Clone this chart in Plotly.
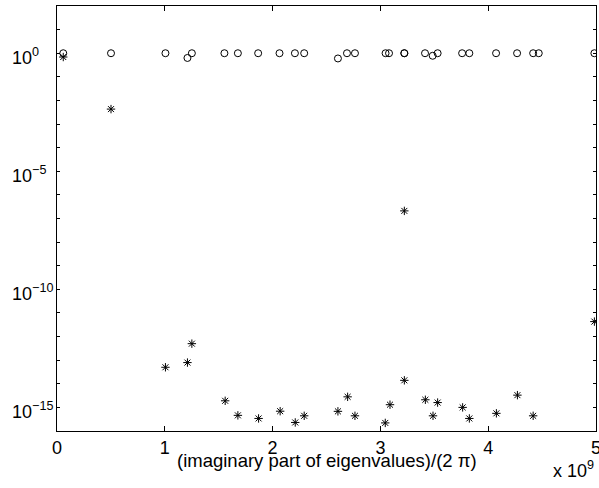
import math
import plotly.graph_objects as go

# Frequencies (imaginary part / 2pi) in units of 1e9
freq_circ = [0.058, 0.501, 1.006, 1.210, 1.251, 1.553, 1.678, 1.866, 2.064, 2.207,
             2.293, 2.606, 2.690, 2.764, 3.048, 3.080, 3.222, 3.222, 3.414, 3.485,
             3.531, 3.758, 3.825, 4.073, 4.268, 4.417, 4.469, 4.985]
mag_circ = [1.0, 1.0, 1.0, 0.63, 1.0, 1.0, 1.0, 1.0, 1.0, 1.0,
            1.0, 0.60, 1.0, 1.0, 1.0, 1.0, 1.0, 1.0, 1.0, 0.78,
            1.0, 1.0, 1.0, 1.0, 1.0, 1.0, 1.0, 1.0]

freq_star = [0.058, 0.501, 1.006, 1.210, 1.251, 1.560, 1.678, 1.870, 2.070, 2.210,
             2.293, 2.606, 2.696, 2.764, 3.045, 3.089, 3.222, 3.222, 3.417, 3.488,
             3.531, 3.763, 3.825, 4.076, 4.271, 4.417, 4.985]
val_star = [6.9e-1, 4.3e-3, 5.0e-14, 7.9e-14, 5.0e-13, 1.9e-15, 4.6e-16, 3.4e-16, 6.9e-16, 2.3e-16,
            4.4e-16, 6.8e-16, 2.8e-15, 4.4e-16, 2.2e-16, 1.3e-15, 2.1e-7, 1.4e-14, 2.1e-15, 4.4e-16,
            1.6e-15, 1.0e-15, 3.4e-16, 5.6e-16, 3.3e-15, 4.4e-16, 4.3e-12]

x_ticks = [0, 1, 2, 3, 4, 5]
x_ticklabels = ["0", "1", "2", "3", "4", "5"]
y_ticks = [1e-15, 1e-10, 1e-5, 1e0]
y_ticklabels = ["10<sup>−15</sup>", "10<sup>−10</sup>", "10<sup>−5</sup>", "10<sup>0</sup>"]
y_minor = [10.0 ** k for k in range(-16, 3)]

SCALE = 1e9
FONT = "Liberation Sans, Arial, Helvetica, sans-serif"

fig = go.Figure()
fig.add_trace(go.Scatter(
    x=[f * SCALE for f in freq_circ], y=mag_circ, mode="markers",
    marker=dict(symbol="circle-open", size=7, color="black", line=dict(width=1, color="black")),
    showlegend=False))
fig.add_trace(go.Scatter(
    x=[f * SCALE for f in freq_star], y=val_star, mode="markers",
    marker=dict(symbol="asterisk-open", size=7, color="black", line=dict(width=1, color="black")),
    showlegend=False))

fig.update_layout(
    width=599, height=488,
    margin=dict(l=57, r=3, t=6, b=57, autoexpand=False),
    paper_bgcolor="white", plot_bgcolor="white",
    font=dict(family=FONT, size=18, color="black"),
)
fig.update_xaxes(
    range=[0, 5 * SCALE], tickmode="array",
    tickvals=[t * SCALE for t in x_ticks], ticktext=x_ticklabels,
    ticks="inside", ticklen=5, tickwidth=1, tickcolor="black",
    showline=True, linecolor="black", linewidth=1, mirror="ticks",
    showgrid=False, zeroline=False, tickfont=dict(size=18),
    ticklabeloverflow="allow", automargin=False,
)
fig.update_yaxes(
    type="log", range=[-16, 2], tickmode="array",
    tickvals=y_ticks, ticktext=[""] * len(y_ticks), showticklabels=False,
    ticks="inside", ticklen=5, tickwidth=1, tickcolor="black",
    minor=dict(tickmode="array", tickvals=y_minor, ticks="inside", ticklen=3, tickcolor="black"),
    showline=True, linecolor="black", linewidth=1, mirror="ticks",
    showgrid=False, zeroline=False,
)

annotations = []
for v, lab in zip(y_ticks, y_ticklabels):
    annotations.append(dict(
        x=(10 - 57) / 539, xref="paper", xanchor="left",
        y=math.log10(v), yref="y", yanchor="middle", yshift=-3,
        text=lab, showarrow=False, font=dict(size=18)))
annotations.append(dict(
    x=0.5, xref="paper", xanchor="center", y=0, yref="paper", yanchor="top", yshift=-17,
    text="(imaginary part of eigenvalues)/(2 π)", showarrow=False, font=dict(size=18.5)))
annotations.append(dict(
    x=1, xref="paper", xanchor="right", y=0, yref="paper", yanchor="top", yshift=-25,
    text="x 10<sup>9</sup>", showarrow=False, font=dict(size=18)))
fig.update_layout(annotations=annotations)

fig.write_html("out.html")
